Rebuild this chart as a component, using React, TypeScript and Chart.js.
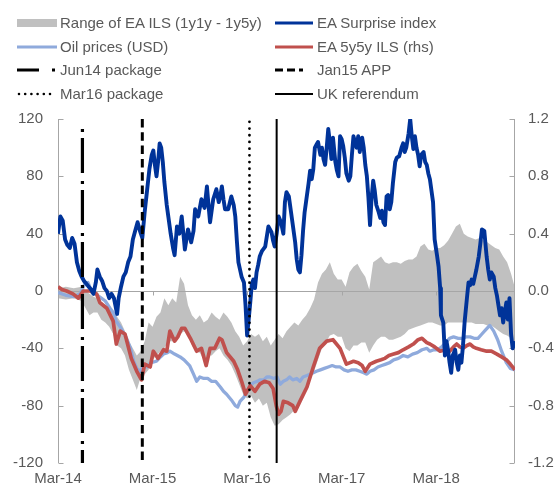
import React, { useEffect, useRef } from 'react';
import { Chart, registerables } from 'chart.js';

Chart.register(...registerables);

// ---------- DATA (x = months since Mar-2014) ----------
const xTickMonths = [0, 12, 24, 36, 48];
const xTickLabels = ['Mar-14', 'Mar-15', 'Mar-16', 'Mar-17', 'Mar-18'];
const xMaxMonth = 58;

const surpriseMonths = [
  0, 0.3, 0.6, 0.9, 1.2, 1.5, 1.8, 2.1, 2.4, 2.7, 3.0, 3.3, 3.6, 3.9, 4.2, 4.5, 4.8, 5.0, 5.3, 5.6,
  5.9, 6.2, 6.5, 6.8, 7.1, 7.5, 7.7, 8.0, 8.3, 8.6, 8.9, 9.2, 9.5, 9.8, 10.1, 10.4, 10.7, 11.0, 11.3, 11.6,
  11.9, 12.1, 12.3, 12.5, 12.7, 12.9, 13.1, 13.3, 13.5, 13.8, 14.0, 14.3, 14.6, 14.8, 15.1, 15.4, 15.7, 16.0, 16.1, 16.5,
  16.9, 17.2, 17.4, 17.8, 18.2, 18.6, 18.9, 19.1, 19.3, 19.7, 20.1, 20.4, 20.6, 20.8, 21.0, 21.2, 21.6, 22.0, 22.3, 22.5,
  22.7, 22.9, 23.3, 23.6, 23.8, 24.0, 24.2, 24.4, 24.6, 24.8, 25.0, 25.2, 25.4, 25.6, 25.9, 26.3, 26.7, 27.1, 27.3, 27.5,
  27.75, 28.0, 28.3, 28.6, 28.8, 29.0, 29.3, 29.7, 30.1, 30.3, 30.5, 30.7, 30.9, 31.1, 31.3, 31.5, 31.8, 32.0, 32.2, 32.4,
  32.6, 32.8, 33.0, 33.3, 33.5, 33.7, 33.9, 34.1, 34.3, 34.5, 34.7, 34.9, 35.2, 35.4, 35.6, 35.8, 36.0, 36.2, 36.4, 36.6,
  36.9, 37.1, 37.3, 37.5, 37.7, 37.9, 38.1, 38.3, 38.6, 38.8, 39.0, 39.2, 39.4, 39.6, 39.8, 40.0, 40.2, 40.4, 40.7, 40.9,
  41.1, 41.3, 41.5, 41.7, 41.9, 42.1, 42.3, 42.5, 42.8, 43.0, 43.3, 43.6, 43.8, 44.0, 44.2, 44.5, 44.7, 44.9, 45.1, 45.3,
  45.5, 45.7, 45.9, 46.1, 46.4, 46.6, 46.8, 47.0, 47.2, 47.4, 47.6, 47.8, 48.1, 48.3, 48.5, 48.6, 48.9, 49.1, 49.3, 49.5,
  49.7, 49.9, 50.1, 50.4, 50.6, 50.8, 51.0, 51.2, 51.4, 51.6, 51.9, 52.1, 52.3, 52.5, 52.7, 52.9, 53.1, 53.4, 53.6, 53.8,
  54.1, 54.4, 54.6, 54.8, 55.0, 55.3, 55.5, 55.7, 55.9, 56.1, 56.3, 56.5, 56.7, 56.9, 57.1, 57.3, 57.5, 57.7, 58.0,
];
const surpriseValues = [
  40, 52, 49, 36, 32, 30, 37, 33, 20, 14, 10, 7, 5, 3, 1, -2, 6, 15, 10, 7,
  2, 0, -5, -2, -5, -16, -5, 3, 10, 13, 20, 24, 36, 42, 48, 42, 37, 55, 70, 85,
  95, 98, 88, 80, 90, 103, 100, 90, 76, 60, 52, 40, 30, 25, 45, 40, 52, 35, 29, 43,
  34, 42, 57, 52, 64, 58, 73, 60, 48, 64, 71, 62, 66, 73, 64, 57, 57, 66, 60, 52,
  35, 20, 10, 6, -10, -31, -20, -8, 5, 8, 2, 13, 18, 24, 28, 31, 45, 41, 35, 31,
  40, 52, 48, 40, 62, 69, 66, 50, 34, 22, 15, 13, 25, 42, 55, 63, 75, 84, 78, 85,
  100, 102, 104, 95, 100, 92, 88, 100, 113, 104, 92, 107, 90, 84, 80, 108, 106, 101, 93, 82,
  77, 80, 95, 108, 104, 100, 108, 97, 107, 100, 88, 80, 65, 46, 65, 77, 70, 60, 55, 51,
  56, 48, 46, 66, 67, 57, 62, 75, 90, 93, 94, 100, 103, 97, 100, 110, 120, 108, 99, 108,
  100, 95, 87, 95, 97, 90, 88, 82, 78, 70, 62, 36, 25, 17, 2, -17, -22, -45, -35, -41,
  -50, -57, -45, -41, -50, -55, -45, -50, -38, -22, -5, 6, 4, 8, 5, 10, 15, 24, 33, 43,
  42, 24, 15, 8, 13, 10, 2, -3, -10, -17, -12, -22, -15, -8, -20, -5, -30, -40, -35,
];

const oilMonths = [
  0, 1, 2, 2.8, 3.4, 3.8, 4.3, 5.0, 5.5, 6.0, 6.6, 7.0, 7.4, 8.0, 8.7, 9.2, 9.6, 10.0, 10.4, 10.8,
  11.3, 11.8, 12.5, 13.0, 13.4, 13.9, 14.2, 14.8, 15.5, 16.0, 16.7, 17.2, 17.6, 18.0, 18.5, 19.0, 19.5, 20.0, 20.6, 21.0,
  21.4, 22.0, 22.5, 22.8, 23.1, 23.6, 24.0, 24.4, 24.8, 25.3, 25.6, 26.1, 26.5, 26.9, 27.4, 27.8, 28.2, 28.6, 29.0, 29.4,
  29.8, 30.3, 30.7, 31.1, 31.6, 32.0, 32.4, 32.8, 33.3, 33.8, 34.3, 34.8, 35.3, 35.8, 36.3, 36.8, 37.3, 37.8, 38.3, 38.8,
  39.2, 39.6, 40.1, 40.6, 41.1, 41.6, 42.1, 42.6, 43.2, 43.8, 44.4, 45.0, 45.6, 46.2, 46.8, 47.2, 47.7, 48.2, 48.7, 49.2,
  49.7, 50.2, 50.8, 51.3, 51.8, 52.3, 52.8, 53.3, 53.8, 54.3, 54.8, 55.3, 55.8, 56.3, 56.9, 57.4, 58.0,
];
const oilValues = [
  -1, -3, -4, -2, 5, 6, -1, -3, -5, -7, -12, -15, -21, -26, -33, -40, -49, -54, -56, -53,
  -53, -50, -49, -46, -44, -43, -42, -44, -46, -48, -52, -58, -63, -60, -61, -61, -63, -63, -67, -70,
  -72, -76, -80, -81, -77, -74, -70, -66, -64, -63, -62, -62, -60, -60, -61, -60, -65, -63, -62, -60,
  -62, -61, -63, -60, -59, -58, -57, -56, -55, -54, -53, -52, -53, -53, -55, -56, -55, -55, -56, -57,
  -58, -56, -55, -53, -52, -51, -50, -48, -47, -45, -46, -44, -43, -41, -40, -42, -41, -41, -39, -36,
  -33, -32, -33, -33, -32, -32, -33, -33, -30, -27, -24, -28, -34, -42, -50, -54, -55,
];

const ilsMonths = [
  0, 0.5, 1.1, 1.9, 2.6, 3.2, 4.1, 4.9, 5.3, 6.2, 7.0, 7.4, 7.9, 8.5, 9.3, 10.0, 10.6, 11.0, 11.7, 12.1,
  12.7, 13.4, 13.8, 14.2, 14.8, 15.2, 15.7, 16.1, 16.8, 17.6, 18.2, 18.8, 19.3, 19.9, 20.5, 20.8, 21.4, 22.3, 22.8, 23.3,
  23.8, 24.4, 25.0, 25.6, 26.2, 26.8, 27.3, 27.7, 28.0, 28.3, 28.6, 29.2, 29.8, 30.1, 30.7, 31.6, 32.4, 33.2, 34.1, 34.9,
  35.8, 36.6, 37.5, 38.1, 38.6, 39.0, 39.6, 40.4, 41.0, 41.5, 42.0, 42.6, 43.2, 43.8, 44.5, 45.1, 45.7, 46.2, 46.8, 47.2,
  47.8, 48.5, 49.1, 49.7, 50.2, 50.6, 51.0, 51.4, 51.9, 52.3, 52.7, 53.1, 53.7, 54.4, 55.0, 55.7, 56.3, 56.9, 57.4, 58.0,
];
const ilsValues = [
  0.03, 0.01, 0.0, -0.02, -0.05, 0.0, 0.0, -0.02, -0.08, -0.12, -0.21, -0.37, -0.28, -0.3, -0.47, -0.56, -0.62, -0.51, -0.53, -0.42,
  -0.47, -0.41, -0.42, -0.28, -0.35, -0.32, -0.26, -0.26, -0.33, -0.42, -0.4, -0.52, -0.4, -0.4, -0.33, -0.34, -0.43, -0.49, -0.55, -0.63,
  -0.72, -0.66, -0.7, -0.65, -0.63, -0.64, -0.68, -0.8, -0.86, -0.84, -0.77, -0.78, -0.8, -0.84, -0.77, -0.67, -0.53, -0.4, -0.35, -0.34,
  -0.4, -0.51, -0.49, -0.5, -0.52, -0.56, -0.51, -0.49, -0.48, -0.47, -0.45, -0.44, -0.43, -0.41, -0.39, -0.37, -0.34, -0.33, -0.36, -0.37,
  -0.39, -0.42, -0.41, -0.42, -0.39, -0.37, -0.39, -0.4, -0.38, -0.37, -0.39, -0.4, -0.41, -0.42, -0.42, -0.44, -0.46, -0.48, -0.51, -0.55,
];

const bandMonths = [
  0, 1, 2, 3, 3.5, 4, 4.5, 5, 5.5, 6, 6.5, 7, 7.5, 8, 8.5, 9, 9.5, 10, 10.5, 11,
  11.5, 12, 12.5, 13, 13.5, 14, 14.5, 15, 15.5, 16, 16.5, 17, 17.5, 18, 18.5, 19, 19.5, 20, 20.5, 21,
  21.5, 22, 22.5, 23, 23.5, 24, 24.5, 25, 25.5, 26, 26.5, 27, 27.5, 28, 28.5, 29, 29.5, 30, 30.5, 31,
  31.5, 32, 32.5, 33, 33.5, 34, 34.5, 35, 35.5, 36, 36.5, 37, 37.5, 38, 38.5, 39, 39.5, 40, 40.5, 41,
  41.5, 42, 42.5, 43, 43.5, 44, 44.5, 45, 45.5, 46, 46.5, 47, 47.5, 48, 48.5, 49, 49.5, 50, 50.5, 51,
  51.5, 52, 52.5, 53, 53.5, 54, 54.5, 55, 55.5, 56, 56.5, 57, 57.5, 58,
];
const bandLow = [
  -0.05, -0.06, -0.05, -0.07, -0.12, -0.17, -0.15, -0.15, -0.2, -0.22, -0.25, -0.3, -0.38, -0.4, -0.45, -0.55, -0.62, -0.69, -0.6, -0.58,
  -0.55, -0.48, -0.45, -0.42, -0.4, -0.35, -0.35, -0.35, -0.3, -0.28, -0.3, -0.38, -0.42, -0.43, -0.48, -0.45, -0.45, -0.42, -0.4, -0.45,
  -0.48, -0.52, -0.58, -0.65, -0.72, -0.75, -0.73, -0.78, -0.75, -0.8, -0.78, -0.88, -0.94, -0.93, -0.9, -0.88, -0.86, -0.83, -0.8, -0.74,
  -0.68, -0.62, -0.56, -0.48, -0.4, -0.36, -0.31, -0.3, -0.32, -0.32, -0.4, -0.42, -0.38, -0.38, -0.36, -0.36, -0.43, -0.38, -0.34, -0.32,
  -0.32, -0.34, -0.34, -0.33, -0.32, -0.3, -0.27, -0.26, -0.25, -0.24, -0.23, -0.22, -0.22, -0.23, -0.24, -0.24, -0.22, -0.22, -0.22, -0.22,
  -0.22, -0.22, -0.22, -0.23, -0.23, -0.23, -0.24, -0.24, -0.26, -0.28, -0.3, -0.31, -0.33, -0.36,
];
const bandHigh = [
  0.02, 0.03, 0.02, 0.03, 0.0, -0.02, -0.04, -0.05, -0.08, -0.1, -0.12, -0.15, -0.18, -0.22, -0.28, -0.35, -0.4, -0.45, -0.42, -0.35,
  -0.22, -0.25, -0.18, -0.15, -0.05, -0.1, -0.05, -0.08, 0.1, 0.05, -0.1, -0.17, -0.2, -0.17, -0.22, -0.2, -0.15, -0.18, -0.2, -0.15,
  -0.18, -0.22, -0.28, -0.32, -0.38, -0.35, -0.3, -0.32, -0.3, -0.35, -0.32, -0.38, -0.34, -0.3, -0.33, -0.28, -0.25, -0.22, -0.24, -0.2,
  -0.17, -0.12, -0.06, 0.06, 0.12, 0.15, 0.2, 0.12, 0.08, 0.08, 0.03, 0.13, 0.17, 0.19, 0.14, 0.1, 0.01, 0.2, 0.22, 0.24,
  0.2, 0.19, 0.2, 0.2, 0.19, 0.21, 0.22, 0.22, 0.24, 0.31, 0.33, 0.29, 0.28, 0.3, 0.3, 0.32, 0.35, 0.4, 0.45, 0.47,
  0.4, 0.38, 0.37, 0.36, 0.37, 0.35, 0.34, 0.32, 0.3, 0.29, 0.24, 0.2, 0.12, 0.02,
];

const eventLabels = ['Jun14 package', 'Jan15 APP', 'Mar16 package', 'UK referendum'];
const eventMonths = [3.1, 10.7, 24.3, 27.75];
const eventTops = [113, 120, 118, 120];

const seriesLabels = ['Range of EA ILS (1y1y - 1y5y)', 'EA Surprise index', 'Oil prices (USD)', 'EA 5y5y ILS (rhs)'];

// ---------- STYLE ----------
const FONT = 'Arial, "Liberation Sans", sans-serif';
const TEXT = '#595959';
const AXIS = '#a6a6a6';
const C_SURPRISE = '#003399';
const C_OIL = '#8faadc';
const C_ILS = '#c0504d';
const C_BAND = '#c0c0c0';

const eventStyles = [
  { width: 3.2, dash: [3, 6, 35, 8], cap: 'butt' },
  { width: 3, dash: [8.5, 4.8], cap: 'butt' },
  { width: 2.8, dash: [0, 6.7], cap: 'round' },
  { width: 2, dash: [], cap: 'butt' },
];

const axisDecor = {
  id: 'axisDecor',
  beforeDatasetsDraw(chart: any) {
    const { ctx, chartArea: a, scales } = chart;
    const y = scales.y;
    const y1 = scales.y1;
    const x = scales.x;
    ctx.save();
    ctx.strokeStyle = AXIS;
    ctx.lineWidth = 1;
    ctx.beginPath();
    const y0 = Math.round(y.getPixelForValue(0)) + 0.5;
    ctx.moveTo(a.left, y0);
    ctx.lineTo(a.right, y0);
    const l = Math.round(a.left) + 0.5;
    const r = Math.round(a.right) - 0.5;
    ctx.moveTo(l, a.top);
    ctx.lineTo(l, a.bottom);
    ctx.moveTo(r, a.top);
    ctx.lineTo(r, a.bottom);
    y.ticks.forEach((t: any) => {
      const p = Math.round(y.getPixelForValue(t.value)) + 0.5;
      ctx.moveTo(l, p);
      ctx.lineTo(l + 5, p);
    });
    y1.ticks.forEach((t: any) => {
      const p = Math.round(y1.getPixelForValue(t.value)) + 0.5;
      ctx.moveTo(r, p);
      ctx.lineTo(r - 5, p);
    });
    x.ticks.forEach((t: any) => {
      const p = Math.round(x.getPixelForValue(t.value)) + 0.5;
      ctx.moveTo(p, y0);
      ctx.lineTo(p, y0 + 4);
    });
    ctx.stroke();
    ctx.restore();
  },
};

function Swatch({ kind }: { kind: number }) {
  // 0 band, 1 surprise, 2 oil, 3 ils, 4..7 events
  let el: any = null;
  if (kind === 0) el = <rect x={0} y={2} width={40} height={8} fill={C_BAND} />;
  else if (kind === 1) el = <line x1={0} y1={6} x2={38} y2={6} stroke={C_SURPRISE} strokeWidth={3} />;
  else if (kind === 2) el = <line x1={0} y1={6} x2={40} y2={6} stroke={C_OIL} strokeWidth={3} />;
  else if (kind === 3) el = <line x1={0} y1={6} x2={38} y2={6} stroke={C_ILS} strokeWidth={3} />;
  else if (kind === 4) el = <line x1={0} y1={6} x2={38} y2={6} stroke="#000" strokeWidth={3.2} strokeDasharray="22 13 3 20" />;
  else if (kind === 5) el = <line x1={0} y1={6} x2={28} y2={6} stroke="#000" strokeWidth={3} strokeDasharray="8 4" />;
  else if (kind === 6) el = <line x1={2} y1={6} x2={34} y2={6} stroke="#000" strokeWidth={2.6} strokeDasharray="0 6.2" strokeLinecap="round" />;
  else el = <line x1={0} y1={6} x2={38} y2={6} stroke="#000" strokeWidth={2} />;
  return (
    <svg width={42} height={12} style={{ display: 'block' }}>
      {el}
    </svg>
  );
}

const legendItems = [
  { label: seriesLabels[0], kind: 0, col: 0, row: 0 },
  { label: seriesLabels[1], kind: 1, col: 1, row: 0 },
  { label: seriesLabels[2], kind: 2, col: 0, row: 1 },
  { label: seriesLabels[3], kind: 3, col: 1, row: 1 },
  { label: eventLabels[0], kind: 4, col: 0, row: 2 },
  { label: eventLabels[1], kind: 5, col: 1, row: 2 },
  { label: eventLabels[2], kind: 6, col: 0, row: 3 },
  { label: eventLabels[3], kind: 7, col: 1, row: 3 },
];
const rowCenters = [23, 46.5, 70, 94];
const colSwatchX = [17, 275];
const colTextX = [60, 317];

export default function App() {
  const ref = useRef<HTMLCanvasElement | null>(null);

  useEffect(() => {
    if (!ref.current) return;
    const pts = (xs: number[], ys: number[]) => xs.map((m, i) => ({ x: m, y: ys[i] }));

    const eventSets = eventMonths.map((m, i) => ({
      label: eventLabels[i],
      data: [
        { x: m, y: eventTops[i] },
        { x: m, y: -120 },
      ],
      yAxisID: 'y',
      borderColor: '#000',
      borderWidth: eventStyles[i].width,
      borderDash: eventStyles[i].dash,
      borderCapStyle: eventStyles[i].cap,
      pointRadius: 0,
      fill: false,
      order: 0,
    }));

    const chart = new Chart(ref.current, {
      type: 'line',
      data: {
        datasets: [
          ...eventSets,
          {
            label: seriesLabels[1],
            data: pts(surpriseMonths, surpriseValues),
            yAxisID: 'y',
            borderColor: C_SURPRISE,
            borderWidth: 3.9,
            borderJoinStyle: 'round',
            pointRadius: 0,
            fill: false,
            order: 1,
          },
          {
            label: seriesLabels[3],
            data: pts(ilsMonths, ilsValues),
            yAxisID: 'y1',
            borderColor: C_ILS,
            borderWidth: 3.7,
            borderJoinStyle: 'round',
            pointRadius: 0,
            fill: false,
            order: 2,
          },
          {
            label: seriesLabels[2],
            data: pts(oilMonths, oilValues),
            yAxisID: 'y',
            borderColor: C_OIL,
            borderWidth: 3.3,
            borderJoinStyle: 'round',
            pointRadius: 0,
            fill: false,
            order: 3,
          },
          {
            label: 'band-low',
            data: pts(bandMonths, bandLow),
            yAxisID: 'y1',
            borderWidth: 0,
            borderColor: 'rgba(0,0,0,0)',
            pointRadius: 0,
            fill: false,
            order: 5,
          },
          {
            label: seriesLabels[0],
            data: pts(bandMonths, bandHigh),
            yAxisID: 'y1',
            borderWidth: 0,
            borderColor: 'rgba(0,0,0,0)',
            backgroundColor: C_BAND,
            pointRadius: 0,
            fill: '-1',
            order: 4,
          },
        ] as any,
      },
      plugins: [axisDecor],
      options: {
        responsive: false,
        animation: false,
        layout: { padding: { top: 119, left: 0, right: 0, bottom: 0 } },
        plugins: {
          legend: { display: false },
          tooltip: { enabled: false },
          filler: { drawTime: 'beforeDatasetsDraw' } as any,
        },
        scales: {
          x: {
            type: 'linear',
            min: 0,
            max: xMaxMonth,
            afterBuildTicks: (s: any) => {
              s.ticks = xTickMonths.map((v) => ({ value: v }));
            },
            afterFit: (s: any) => {
              s.height = 28;
            },
            grid: { display: false, drawTicks: false },
            border: { display: false },
            ticks: {
              autoSkip: false,
              maxRotation: 0,
              padding: 7,
              color: TEXT,
              font: { family: FONT, size: 15 },
              callback: (v: any) => {
                const i = xTickMonths.indexOf(Number(v));
                return i >= 0 ? xTickLabels[i] : '';
              },
            },
          },
          y: {
            position: 'left',
            min: -120,
            max: 120,
            afterFit: (s: any) => {
              s.width = 58;
            },
            grid: { display: false, drawTicks: false },
            border: { display: false },
            ticks: { stepSize: 40, padding: 15, color: TEXT, font: { family: FONT, size: 15 } },
          },
          y1: {
            position: 'right',
            min: -1.2,
            max: 1.2,
            afterFit: (s: any) => {
              s.width = 40;
            },
            grid: { display: false, drawTicks: false },
            border: { display: false },
            ticks: {
              stepSize: 0.4,
              padding: 13,
              color: TEXT,
              font: { family: FONT, size: 15 },
              callback: (v: any) => Number(v).toFixed(1).replace('-0.0', '0.0'),
            },
          },
        },
      } as any,
    });
    return () => chart.destroy();
  }, []);

  return (
    <div style={{ position: 'absolute', left: 0, top: 0, width: 555, height: 491, background: '#fff', overflow: 'hidden' }}>
      <canvas ref={ref} width={555} height={491} style={{ position: 'absolute', left: 0, top: 0, display: 'block' }} />
      {legendItems.map((it, i) => (
        <React.Fragment key={i}>
          <div style={{ position: 'absolute', left: colSwatchX[it.col], top: rowCenters[it.row] - 6 }}>
            <Swatch kind={it.kind} />
          </div>
          <div
            style={{
              position: 'absolute',
              left: colTextX[it.col],
              top: rowCenters[it.row] - 9,
              height: 18,
              lineHeight: '18px',
              fontFamily: FONT,
              fontSize: 15,
              color: TEXT,
              whiteSpace: 'nowrap',
            }}
          >
            {it.label}
          </div>
        </React.Fragment>
      ))}
    </div>
  );
}
